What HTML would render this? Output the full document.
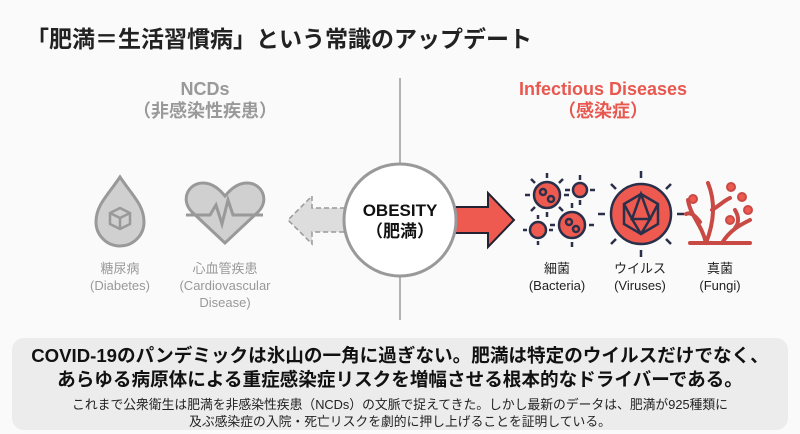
<!DOCTYPE html>
<html><head><meta charset="utf-8"><style>
body{margin:0;width:800px;height:434px;background:#fafafa;font-family:"Liberation Sans","Noto Sans CJK JP",sans-serif;position:relative;overflow:hidden}
.a{position:absolute;white-space:nowrap}
.c{transform:translateX(-50%);text-align:center}
</style></head><body>
<div class="a" style="left:26px;top:20px;font-size:23px;font-weight:bold;color:#222">「肥満＝生活習慣病」という常識のアップデート</div>
<div class="a c" style="left:205px;top:78px;font-size:18px;font-weight:bold;color:#999;line-height:22px">NCDs<br>（非感染性疾患）</div>
<div class="a c" style="left:603px;top:78px;font-size:18px;font-weight:bold;color:#e8584f;line-height:22px">Infectious Diseases<br>（感染症）</div>
<svg class="a" style="left:0;top:0" width="800" height="340">
<line x1="400" y1="78" x2="400" y2="320" stroke="#999" stroke-width="1.5"/>
<path d="M345,208 L312,208 L312,196 L288,220 L312,244 L312,232 L345,232 Z" fill="#ddd" stroke="#999" stroke-width="1.5" stroke-dasharray="5,3"/>
<path d="M453,207 L488,207 L488,193 L514,220 L488,247 L488,233 L453,233 Z" fill="#ee5a50" stroke="#223" stroke-width="2"/>
<circle cx="400" cy="220" r="56" fill="#fff" stroke="#999" stroke-width="3"/>
<path d="M120,177 C108,195 96,205 96,222 A24,24 0 0 0 144,222 C144,205 132,195 120,177Z" fill="#d0d0d0" stroke="#999" stroke-width="3"/>
<path d="M120,208 l10,5 v11 l-10,5 l-10,-5 v-11z M110,213 l10,5 l10,-5 M120,218 v11" fill="none" stroke="#999" stroke-width="2.5"/>
<path d="M225,243 L192,212 C180,200 188,183 203,183 C213,183 220,190 225,196 C230,190 237,183 247,183 C262,183 270,200 258,212 Z" fill="#d0d0d0" stroke="#999" stroke-width="3"/>
<polyline points="186,215 210,215 216,205 222,224 228,200 233,215 263,215" fill="none" stroke="#999" stroke-width="3"/>
<g fill="#ee5a50" stroke="#2a2f4a" stroke-width="2.5">
<circle cx="547" cy="195" r="13"/><circle cx="580" cy="190" r="7"/><circle cx="572" cy="225" r="13"/><circle cx="538" cy="230" r="8"/>
</g>
<g stroke="#2a2f4a" stroke-width="2.5">
<path d="M547,178v-5M547,212v5M530,195h-5M564,195h5M535,183l-4,-4M559,183l4,-4M535,207l-4,4M559,207l4,4M580,180v-5M580,200v5M570,190h-5M590,190h5M572,208v-5M572,242v5M555,225h-5M589,225h5M538,219v-4M538,241v4M527,230h-4M549,230h4"/>
<circle cx="543" cy="192" r="3" fill="none"/><circle cx="551" cy="199" r="3" fill="none"/><circle cx="569" cy="222" r="3" fill="none"/><circle cx="576" cy="229" r="3" fill="none"/>
</g>
<g stroke="#2a2f4a" stroke-width="2.5">
<path d="M641,178v-7M641,250v7M605,214h-7M677,214h7M616,189l-5,-5M666,189l5,-5M616,239l-5,5M666,239l5,5"/>
<circle cx="641" cy="214" r="30" fill="#ee5a50"/>
<polygon points="641,194 658,204 658,224 641,234 624,224 624,204" fill="none"/>
<path d="M641,194 L632,219 L650,219 Z M624,204 L632,219 M658,204 L650,219 M641,234 L632,219 M641,234 L650,219" fill="none"/>
</g>
<g fill="none" stroke="#c94a45" stroke-width="4" stroke-linecap="round">
<path d="M690,243 H750 M706,243 C702,225 690,215 688,200 M706,243 C715,220 715,200 708,183 M712,210 C720,205 725,200 730,198 M722,243 C730,230 740,225 750,220 M700,222 C695,215 690,212 686,214 M735,228 C740,222 738,215 735,210"/>
</g>
<g fill="#ee5a50" stroke="#c94a45" stroke-width="2"><circle cx="693" cy="199" r="4"/><circle cx="731" cy="187" r="4"/><circle cx="742" cy="197" r="4"/><circle cx="748" cy="210" r="4"/><circle cx="730" cy="220" r="4"/></g>
</svg>
<div class="a c" style="left:400px;top:200px;font-size:17px;font-weight:bold;color:#111;line-height:21px">OBESITY<br>（肥満）</div>
<div class="a c" style="left:120px;top:260px;font-size:13px;color:#999;line-height:17px">糖尿病<br>(Diabetes)</div>
<div class="a c" style="left:225px;top:260px;font-size:13px;color:#999;line-height:17px">心血管疾患<br>(Cardiovascular<br>Disease)</div>
<div class="a c" style="left:557px;top:260px;font-size:13px;color:#222;line-height:17px">細菌<br>(Bacteria)</div>
<div class="a c" style="left:640px;top:260px;font-size:13px;color:#222;line-height:17px">ウイルス<br>(Viruses)</div>
<div class="a c" style="left:720px;top:260px;font-size:13px;color:#222;line-height:17px">真菌<br>(Fungi)</div>
<div class="a" style="left:12px;top:338px;width:776px;height:92px;background:#ececec;border-radius:12px"></div>
<div class="a c" style="left:400px;top:344px;font-size:18.6px;font-weight:bold;color:#111;line-height:24px">COVID-19のパンデミックは氷山の一角に過ぎない。肥満は特定のウイルスだけでなく、<br>あらゆる病原体による重症感染症リスクを増幅させる根本的なドライバーである。</div>
<div class="a c" style="left:400px;top:396px;font-size:12.8px;color:#222;line-height:17px">これまで公衆衛生は肥満を非感染性疾患（NCDs）の文脈で捉えてきた。しかし最新のデータは、肥満が925種類に<br>及ぶ感染症の入院・死亡リスクを劇的に押し上げることを証明している。</div>
</body></html>
